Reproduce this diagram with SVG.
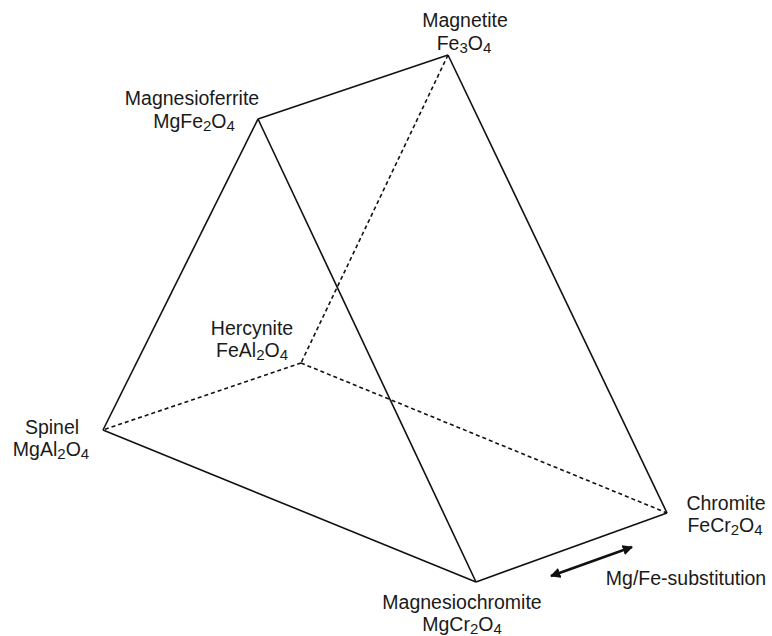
<svg xmlns="http://www.w3.org/2000/svg" width="772" height="636" viewBox="0 0 772 636">
<style>
text{font-family:"Liberation Sans",Arial,sans-serif;font-size:19.5px;fill:#1a1a1a;text-anchor:middle}
.sub{font-size:15px}
.solid{stroke:#111;stroke-width:1.6;fill:none}
.dash{stroke:#111;stroke-width:1.6;fill:none;stroke-dasharray:4 3}
.arr{stroke:#111;stroke-width:2.6;fill:none}
</style>
<defs>
<marker id="ah" viewBox="0 0 10 10" refX="9" refY="5" markerWidth="4" markerHeight="4" orient="auto-start-reverse" markerUnits="strokeWidth">
<path d="M0,0 L10,5 L0,10 Z" fill="#111"/>
</marker>
</defs>
<rect width="772" height="636" fill="#fff"/>
<g id="connectors">
<line class="solid" x1="258" y1="119" x2="448" y2="55"/>
<line class="solid" x1="103" y1="430" x2="258" y2="119"/>
<line class="solid" x1="258" y1="119" x2="476" y2="582"/>
<line class="solid" x1="448" y1="55" x2="667" y2="513"/>
<line class="solid" x1="103" y1="430" x2="476" y2="582"/>
<line class="solid" x1="476" y1="582" x2="667" y2="513"/>
<line class="dash" x1="448" y1="55" x2="301" y2="363"/>
<line class="dash" x1="301" y1="363" x2="103" y2="430"/>
<line class="dash" x1="301" y1="363" x2="667" y2="513"/>
<line class="arr" x1="551" y1="576" x2="632" y2="547" marker-start="url(#ah)" marker-end="url(#ah)"/>
</g>
<g id="magnetite">
<text x="465" y="27">Magnetite</text>
<text x="464" y="50">Fe<tspan class="sub" dy="3">3</tspan><tspan dy="-3">O</tspan><tspan class="sub" dy="3">4</tspan></text>
</g>
<g id="magnesioferrite">
<text x="192" y="105">Magnesioferrite</text>
<text x="194" y="128">MgFe<tspan class="sub" dy="3">2</tspan><tspan dy="-3">O</tspan><tspan class="sub" dy="3">4</tspan></text>
</g>
<g id="hercynite">
<text x="252" y="335">Hercynite</text>
<text x="252" y="357">FeAl<tspan class="sub" dy="3">2</tspan><tspan dy="-3">O</tspan><tspan class="sub" dy="3">4</tspan></text>
</g>
<g id="spinel">
<text x="52" y="434">Spinel</text>
<text x="51" y="456">MgAl<tspan class="sub" dy="3">2</tspan><tspan dy="-3">O</tspan><tspan class="sub" dy="3">4</tspan></text>
</g>
<g id="chromite">
<text x="726" y="510">Chromite</text>
<text x="725" y="532">FeCr<tspan class="sub" dy="3">2</tspan><tspan dy="-3">O</tspan><tspan class="sub" dy="3">4</tspan></text>
</g>
<g id="magnesiochromite">
<text x="462" y="609">Magnesiochromite</text>
<text x="462" y="631">MgCr<tspan class="sub" dy="3">2</tspan><tspan dy="-3">O</tspan><tspan class="sub" dy="3">4</tspan></text>
</g>
<g id="substitution">
<text x="686" y="585">Mg/Fe-substitution</text>
</g>
</svg>
